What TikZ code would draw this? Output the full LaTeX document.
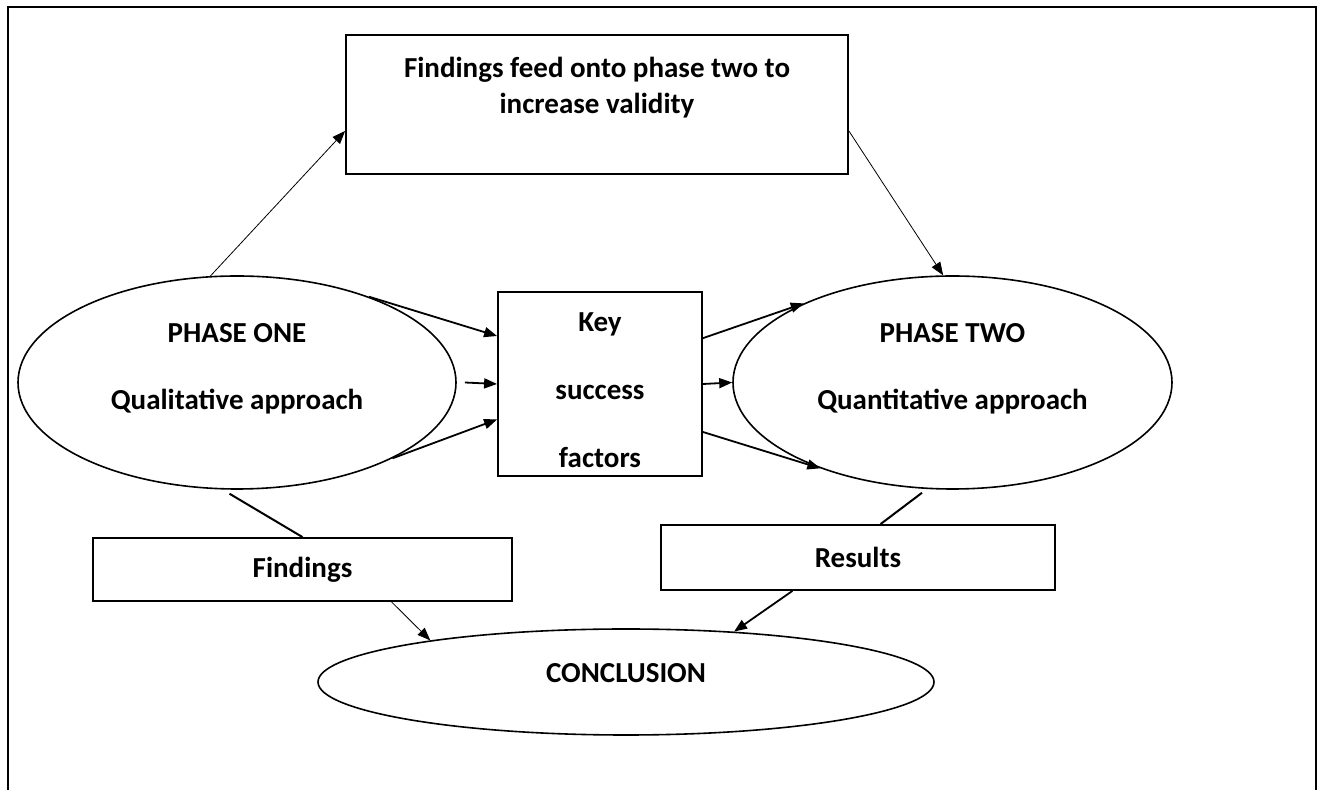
\documentclass[tikz,border=0pt]{standalone}
\usepackage{fontspec}
\setmainfont{Carlito}
\usetikzlibrary{arrows.meta,shapes.geometric}
\begin{document}
\begin{tikzpicture}[x=0.5pt,y=-0.5pt,
		box/.style={draw,line width=0.9pt,rectangle,align=center,inner sep=2pt,font=\bfseries\fontsize{14.5}{17.4}\selectfont},
		oval/.style={draw,line width=0.8pt,ellipse,align=center,inner sep=2pt,font=\bfseries\fontsize{14.5}{33.5}\selectfont},
		thickarrow/.style={line width=0.9pt,-{Triangle[length=6.5pt,width=5pt]}},
		thinarrow/.style={line width=0.4pt,-{Triangle[length=6.5pt,width=5pt]}},
		plainline/.style={line width=1pt}]
		\useasboundingbox (0,0) rectangle (1319,790);
		\draw[line width=1.4pt] (8,790) -- (8,7) -- (1316,7) -- (1316,790);
		\node[box,minimum width=251pt,minimum height=69.5pt,text depth=19.5pt,font=\bfseries\fontsize{14.5}{18}\selectfont] (topbox) at (597,104.5) {Findings feed onto phase two to\\increase validity};
		\node[oval,minimum width=219pt,minimum height=106.5pt,text depth=16pt] (phaseone) at (237,382.5) {PHASE ONE\\Qualitative approach};
		\node[box,minimum width=102pt,minimum height=92pt,inner sep=0pt,text height=84pt,text depth=0pt,font=\bfseries\fontsize{14.5}{34}\selectfont] (keybox) at (600,384) {Key\\success\\factors};
		\node[oval,minimum width=219.5pt,minimum height=106.5pt,text depth=16pt] (phasetwo) at (952.5,382.5) {PHASE TWO\\Quantitative approach};
		\node[box,minimum width=209.5pt,minimum height=31.5pt] (findings) at (302.5,569.5) {Findings};
		\node[box,minimum width=197pt,minimum height=32.5pt] (results) at (858,557.5) {Results};
		\node[oval,minimum width=308pt,minimum height=53pt,text depth=8.75pt] (conclusion) at (626,682) {CONCLUSION};
		\draw[thinarrow] (phaseone.104) -- (topbox.186);
		\draw[thinarrow] (topbox.354) -- (phasetwo.95);
		\draw[thickarrow] (phaseone.33) -- (keybox.155);
		\draw[thickarrow] ([xshift=4pt]phaseone.east) -- (keybox.west);
		\draw[thickarrow] (phaseone.-26) -- (keybox.199);
		\draw[thickarrow] (keybox.24) -- (phasetwo.152);
		\draw[thickarrow] (keybox.east) -- (phasetwo.west);
		\draw[thickarrow] (keybox.-25) -- (phasetwo.213);
		\draw[plainline] ([yshift=-2pt]phaseone.266) -- (findings.north);
		\draw[thinarrow] (findings.-20) -- (conclusion.168);
		\draw[plainline] ([yshift=-2pt]phasetwo.254) -- (results.56);
		\draw[thickarrow] (results.207) -- (conclusion.25);
\end{tikzpicture}
\end{document}
